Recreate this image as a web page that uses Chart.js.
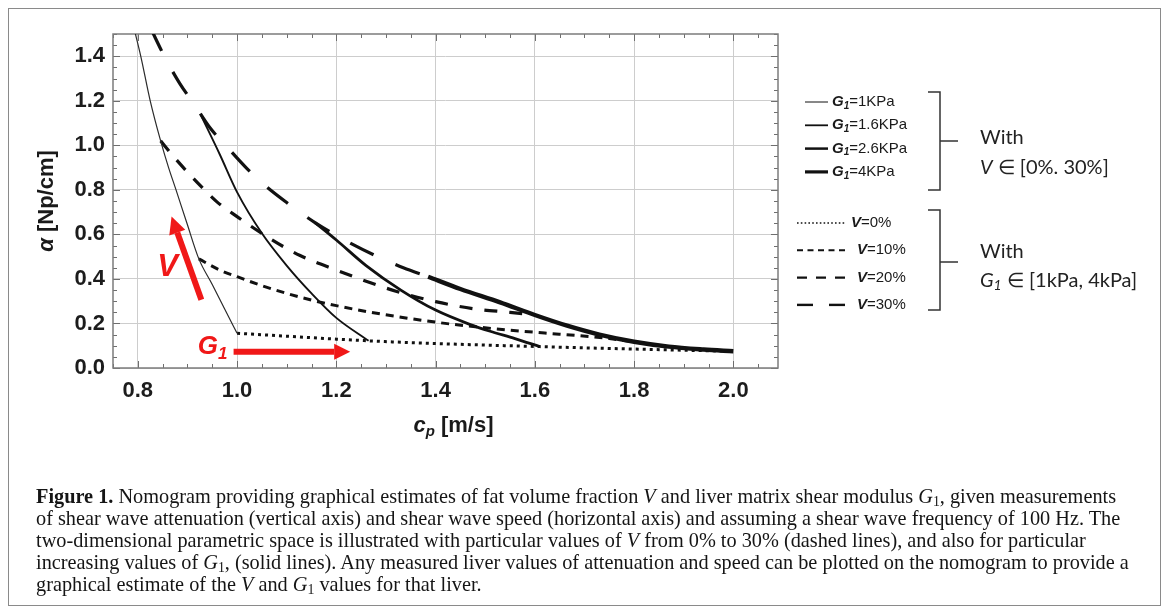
<!DOCTYPE html>
<html>
<head>
<meta charset="utf-8">
<title>Nomogram</title>
<script src="https://cdn.jsdelivr.net/npm/chart.js@4.4.1/dist/chart.umd.min.js"></script>
<style>
  html, body { margin: 0; padding: 0; background: #fff; }
  #fig { position: relative; width: 1168px; height: 614px; overflow: hidden; }
  #frame { position: absolute; left: 8px; top: 8px; width: 1153px; height: 598px; border: 1px solid #8a8a8a; box-sizing: border-box; }
  canvas { position: absolute; left: 0; top: 0; }
  #caption { position: absolute; left: 36px; top: 485px; font-family: "Liberation Serif", "Times New Roman", serif;
             font-size: 20.3px; line-height: 22px; color: #151515; white-space: nowrap; }
  #caption sub { font-size: 0.68em; vertical-align: -0.2em; line-height: 0; }
</style>
</head>
<body>
<div id="fig">
  <div id="frame"></div>
  <canvas id="nomogram" width="1168" height="614"></canvas>
  <div id="caption">
    <b>Figure 1.</b> Nomogram providing graphical estimates of fat volume fraction <i>V</i> and liver matrix shear modulus <i>G</i><sub>1</sub>, given measurements<br>
    of shear wave attenuation (vertical axis) and shear wave speed (horizontal axis) and assuming a shear wave frequency of 100&nbsp;Hz. The<br>
    two-dimensional parametric space is illustrated with particular values of <i>V</i> from 0% to 30% (dashed lines), and also for particular<br>
    increasing values of <i>G</i><sub>1</sub>, (solid lines). Any measured liver values of attenuation and speed can be plotted on the nomogram to provide a<br>
    graphical estimate of the <i>V</i> and <i>G</i><sub>1</sub> values for that liver.
  </div>
</div>
<script>
// axis ticks
const xTicks = [0.8, 1.0, 1.2, 1.4, 1.6, 1.8, 2.0];
const yTicks = [0, 0.2, 0.4, 0.6, 0.8, 1.0, 1.2, 1.4];

// constant G1 curves (V from 0% to 30%), c_p in m/s, alpha in Np/cm
const g1_1_cp      = [0.793, 0.806, 0.825, 0.846, 0.862, 0.877, 0.899, 0.923, 0.95, 0.975, 1.0];
const g1_1_alpha   = [1.52, 1.40, 1.20, 1.02, 0.90, 0.80, 0.65, 0.49, 0.375, 0.265, 0.156];
const g1_16_cp     = [0.926, 0.965, 1.0, 1.05, 1.1, 1.15, 1.2, 1.265];
const g1_16_alpha  = [1.14, 0.96, 0.79, 0.605, 0.46, 0.335, 0.225, 0.122];
const g1_26_cp     = [1.157, 1.2, 1.26, 1.33, 1.4, 1.47, 1.51, 1.56, 1.61];
const g1_26_alpha  = [0.653, 0.575, 0.46, 0.35, 0.26, 0.195, 0.165, 0.132, 0.096];
const g1_4_cp      = [1.385, 1.45, 1.53, 1.6, 1.665, 1.73, 1.8, 1.87, 1.94, 2.0];
const g1_4_alpha   = [0.41, 0.355, 0.295, 0.238, 0.19, 0.15, 0.118, 0.096, 0.083, 0.075];

// constant V curves (G1 from 1 to 4 kPa)
const v0_cp     = [1.0, 1.265, 1.4, 1.61, 1.8, 2.0];
const v0_alpha  = [0.156, 0.122, 0.11, 0.096, 0.085, 0.075];
const v10_cp    = [0.923, 0.965, 1.0, 1.05, 1.1, 1.15, 1.2, 1.27, 1.34, 1.41, 1.48, 1.55, 1.62, 1.69, 1.75, 1.8];
const v10_alpha = [0.49, 0.44, 0.41, 0.37, 0.335, 0.305, 0.28, 0.25, 0.225, 0.203, 0.185, 0.17, 0.157, 0.145, 0.132, 0.118];
const v20_cp    = [0.846, 0.87, 0.9, 0.93, 0.96, 1.0, 1.06, 1.127, 1.2, 1.26, 1.32, 1.4, 1.48, 1.55, 1.6];
const v20_alpha = [1.02, 0.955, 0.88, 0.81, 0.745, 0.68, 0.59, 0.505, 0.44, 0.39, 0.345, 0.298, 0.265, 0.25, 0.238];
const v30_cp    = [0.825, 0.856, 0.885, 0.915, 0.945, 0.979, 1.019, 1.054, 1.1, 1.157, 1.234, 1.288, 1.335, 1.385];
const v30_alpha = [1.53, 1.389, 1.276, 1.18, 1.08, 0.995, 0.898, 0.824, 0.743, 0.653, 0.554, 0.495, 0.45, 0.41];

// legend entries
const g1Labels = ['1KPa', '1.6KPa', '2.6KPa', '4KPa'];
const vLabels = ['0%', '10%', '20%', '30%'];

// red annotations, in data units
const vArrow = [[0.928, 0.306], [0.868, 0.68]];
const g1Arrow = [[0.993, 0.073], [1.228, 0.073]];
const vMark = [0.86, 0.45];
const g1Mark = [0.921, 0.095];

const pts = (xs, ys) => xs.map((x, i) => ({ x: x, y: ys[i] }));
const RED = '#f01818';

const line = (data, width, dash, color) => ({
  data: data,
  showLine: true,
  pointRadius: 0,
  borderColor: color || '#111',
  borderWidth: width,
  borderDash: dash || [],
  borderCapStyle: 'butt',
  cubicInterpolationMode: 'monotone'
});

// Mathematica-like frame with inward ticks on all four sides
const frameTicks = {
  id: 'frameTicks',
  beforeDatasetsDraw(chart) {
    const { ctx, chartArea: a, scales: { x, y } } = chart;
    ctx.save();
    ctx.strokeStyle = '#6e6e6e';
    ctx.lineWidth = 1;
    ctx.beginPath();
    for (let k = Math.ceil(x.min / 0.05 - 1e-6); k * 0.05 <= x.max + 1e-6; k++) {
      const px = Math.round(x.getPixelForValue(k * 0.05)) + 0.5;
      const len = k % 4 === 0 ? 7 : 4;
      ctx.moveTo(px, a.bottom); ctx.lineTo(px, a.bottom - len);
      ctx.moveTo(px, a.top); ctx.lineTo(px, a.top + len);
    }
    for (let k = Math.ceil(y.min / 0.05 - 1e-6); k * 0.05 <= y.max + 1e-6; k++) {
      const py = Math.round(y.getPixelForValue(k * 0.05)) + 0.5;
      const len = k % 4 === 0 ? 7 : 4;
      ctx.moveTo(a.left, py); ctx.lineTo(a.left + len, py);
      ctx.moveTo(a.right, py); ctx.lineTo(a.right - len, py);
    }
    ctx.stroke();
    ctx.strokeStyle = '#7c7c7c';
    ctx.lineWidth = 1.5;
    ctx.strokeRect(a.left, a.top, a.right - a.left, a.bottom - a.top);
    ctx.restore();
  }
};

// draw a run of [text, font, dy] pieces starting at x
function drawRun(ctx, parts, x, y) {
  for (const [t, f, dy] of parts) {
    ctx.font = f;
    ctx.fillText(t, x, y + (dy || 0));
    x += ctx.measureText(t).width;
  }
  return x;
}
function runWidth(ctx, parts) {
  let w = 0;
  for (const [t, f] of parts) { ctx.font = f; w += ctx.measureText(t).width; }
  return w;
}

function arrow(ctx, x0, y0, x1, y1, w, hl, hw) {
  const ang = Math.atan2(y1 - y0, x1 - x0);
  const bx = x1 - hl * Math.cos(ang), by = y1 - hl * Math.sin(ang);
  ctx.lineWidth = w;
  ctx.beginPath(); ctx.moveTo(x0, y0); ctx.lineTo(bx, by); ctx.stroke();
  ctx.beginPath();
  ctx.moveTo(x1, y1);
  ctx.lineTo(bx + hw / 2 * Math.sin(ang), by - hw / 2 * Math.cos(ang));
  ctx.lineTo(bx - hw / 2 * Math.sin(ang), by + hw / 2 * Math.cos(ang));
  ctx.closePath(); ctx.fill();
}

const extras = {
  id: 'extras',
  afterDraw(chart) {
    const { ctx, chartArea: a, scales: { x, y } } = chart;
    ctx.save();

    // red arrows and labels
    ctx.strokeStyle = RED; ctx.fillStyle = RED; ctx.lineCap = 'butt';
    arrow(ctx, x.getPixelForValue(vArrow[0][0]), y.getPixelForValue(vArrow[0][1]),
          x.getPixelForValue(vArrow[1][0]), y.getPixelForValue(vArrow[1][1]), 6, 17, 17);
    arrow(ctx, x.getPixelForValue(g1Arrow[0][0]), y.getPixelForValue(g1Arrow[0][1]),
          x.getPixelForValue(g1Arrow[1][0]), y.getPixelForValue(g1Arrow[1][1]), 6, 16, 16);
    ctx.textBaseline = 'middle'; ctx.textAlign = 'center';
    ctx.font = 'italic bold 31px "Liberation Sans", Arial, sans-serif';
    ctx.fillText('V', x.getPixelForValue(vMark[0]), y.getPixelForValue(vMark[1]));
    ctx.textAlign = 'left';
    drawRun(ctx, [['G', 'italic bold 26px "Liberation Sans", Arial, sans-serif', 0],
                  ['1', 'italic bold 17px "Liberation Sans", Arial, sans-serif', 7]],
            x.getPixelForValue(g1Mark[0]), y.getPixelForValue(g1Mark[1]));

    // axis titles
    ctx.fillStyle = '#1a1a1a';
    const bi = 'italic bold 22px "Liberation Sans", Arial, sans-serif';
    const b = 'bold 22px "Liberation Sans", Arial, sans-serif';
    const xt = [['c', bi, 0], ['p', 'italic bold 15px "Liberation Sans", Arial, sans-serif', 6], [' [m/s]', b, 0]];
    const cx = (a.left + a.right) / 2 + 8;
    drawRun(ctx, xt, cx - runWidth(ctx, xt) / 2, 426);
    const yt = [['α', bi, 0], [' [Np/cm]', b, 0]];
    ctx.save();
    ctx.translate(47, (a.top + a.bottom) / 2);
    ctx.rotate(-Math.PI / 2);
    drawRun(ctx, yt, -runWidth(ctx, yt) / 2, 0);
    ctx.restore();

    // legend: G1 group
    const f = '15px "Liberation Sans", Arial, sans-serif';
    const fbi = 'italic bold 15px "Liberation Sans", Arial, sans-serif';
    const fsub = 'italic bold 10px "Liberation Sans", Arial, sans-serif';
    const g1W = [1, 1.8, 2.5, 3.2];
    g1Labels.forEach((lab, i) => {
      const ly = 102 + i * 23.3;
      ctx.strokeStyle = '#111'; ctx.lineWidth = g1W[i]; ctx.setLineDash([]);
      ctx.beginPath(); ctx.moveTo(805, ly); ctx.lineTo(828, ly); ctx.stroke();
      ctx.fillStyle = '#1a1a1a';
      drawRun(ctx, [['G', fbi, 0], ['1', fsub, 4], ['=' + lab, f, 0]], 832, ly);
    });
    // legend: V group
    const vDash = [[1.6, 2.2], [6, 4.5], [10, 9], [16, 16]];
    const vW = [1.6, 2, 2.4, 2.4];
    vLabels.forEach((lab, i) => {
      const ly = 223 + i * 27.3;
      ctx.strokeStyle = '#111'; ctx.lineWidth = vW[i]; ctx.setLineDash(vDash[i]);
      ctx.beginPath(); ctx.moveTo(797, ly); ctx.lineTo(845, ly); ctx.stroke();
      ctx.setLineDash([]);
      ctx.fillStyle = '#1a1a1a';
      drawRun(ctx, [['V', fbi, 0], ['=' + lab, f, 0]], i === 0 ? 851 : 857, ly);
    });

    // brackets
    ctx.strokeStyle = '#333'; ctx.lineWidth = 1.5; ctx.setLineDash([]);
    for (const [t, m, bt] of [[92, 141, 190], [210, 262, 310]]) {
      ctx.beginPath();
      ctx.moveTo(928, t); ctx.lineTo(940, t); ctx.lineTo(940, bt); ctx.lineTo(928, bt);
      ctx.moveTo(940, m); ctx.lineTo(958, m);
      ctx.stroke();
    }
    ctx.fillStyle = '#222';
    const lf = '20px Lato, "Open Sans", sans-serif';
    const lfi = 'italic 20px Lato, "Open Sans", sans-serif';
    const lfs = 'italic 14px Lato, "Open Sans", sans-serif';
    drawRun(ctx, [['With', lf, 0]], 980, 138);
    drawRun(ctx, [['V', lfi, 0], [' ∈ [0%. 30%]', lf, 0]], 980, 168);
    drawRun(ctx, [['With', lf, 0]], 980, 252);
    drawRun(ctx, [['G', lfi, 0], ['1', lfs, 4], [' ∈ [1kPa, 4kPa]', lf, 0]], 980, 281);
    ctx.restore();
  }
};

const tickFont = { family: '"Liberation Sans", Arial, sans-serif', size: 22, weight: 'bold' };

new Chart(document.getElementById('nomogram'), {
  type: 'scatter',
  data: {
    datasets: [
      line(pts(g1_1_cp, g1_1_alpha), 1.2, [], '#2b2b2b'),
      line(pts(g1_16_cp, g1_16_alpha), 1.9),
      line(pts(g1_26_cp, g1_26_alpha), 2.8),
      line(pts(g1_4_cp, g1_4_alpha), 4.4),
      line(pts(v0_cp, v0_alpha), 3, [3, 4]),
      line(pts(v10_cp, v10_alpha), 3, [8, 6]),
      line(pts(v20_cp, v20_alpha), 3.2, [13, 12]),
      line(pts(v30_cp, v30_alpha), 3.2, [26, 24])
    ]
  },
  options: {
    responsive: false,
    animation: false,
    layout: { padding: { left: 33, top: 34, right: 390, bottom: 166 } },
    plugins: { legend: { display: false }, tooltip: { enabled: false } },
    scales: {
      x: {
        type: 'linear', min: 0.75, max: 2.09,
        afterBuildTicks: s => { s.ticks = xTicks.map(v => ({ value: v })); },
        afterFit: s => { s.height = 80; },
        ticks: { font: tickFont, color: '#1c1c1c', padding: 10, maxRotation: 0, autoSkip: false,
                 callback: v => v.toFixed(1) },
        grid: { color: '#cdcdcd', lineWidth: 1, drawTicks: false },
        border: { display: false }
      },
      y: {
        type: 'linear', min: 0, max: 1.5,
        afterBuildTicks: s => { s.ticks = yTicks.map(v => ({ value: v })); },
        afterFit: s => { s.width = 80; },
        ticks: { font: tickFont, color: '#1c1c1c', padding: 8, autoSkip: false,
                 callback: v => v.toFixed(1) },
        grid: { color: '#cdcdcd', lineWidth: 1, drawTicks: false },
        border: { display: false }
      }
    }
  },
  plugins: [frameTicks, extras]
});
</script>
</body>
</html>
